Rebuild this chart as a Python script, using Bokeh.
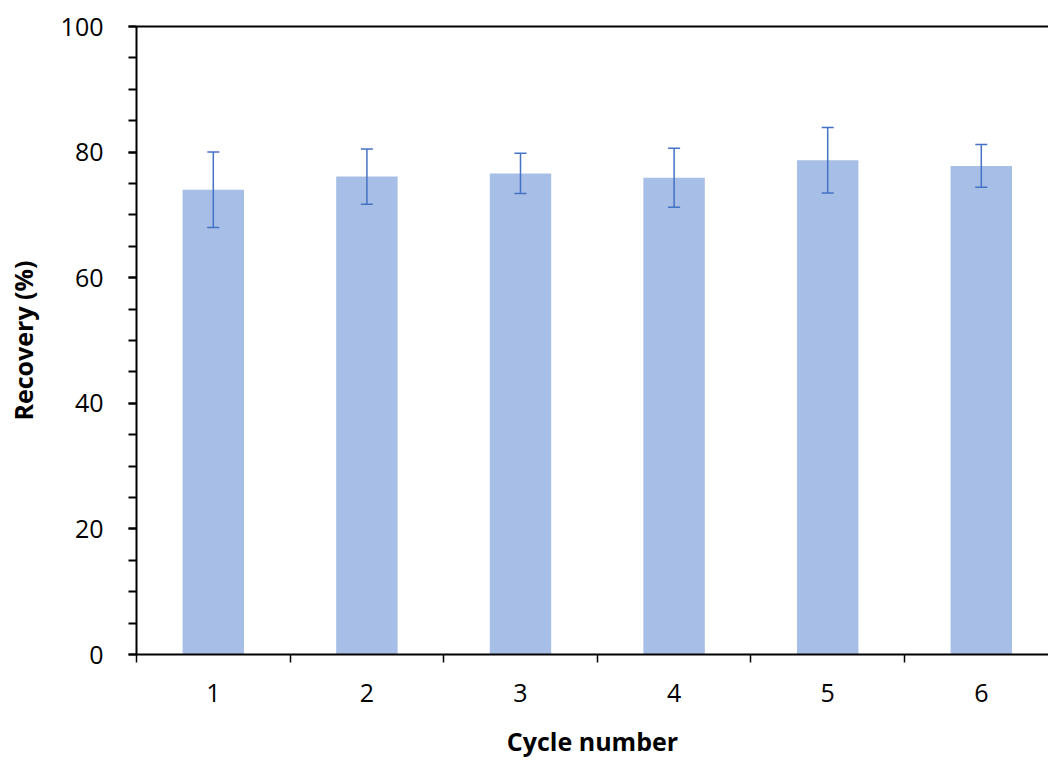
from bokeh.plotting import figure
from bokeh.models import (ColumnDataSource, FixedTicker, LinearAxis, Range1d,
                          Whisker, TeeHead)
from bokeh.embed import file_html
from bokeh.resources import INLINE

# ---- data ----
cycles = [1, 2, 3, 4, 5, 6]
cycle_labels = ["1", "2", "3", "4", "5", "6"]
recovery = [74.0, 76.1, 76.6, 75.9, 78.7, 77.8]
errors = [6.0, 4.4, 3.2, 4.7, 5.2, 3.4]
y_ticks = [0, 20, 40, 60, 80, 100]

FONT = "Open Sans"
BAR = "#A7BEE6"
ERR = "#4472C4"

src = ColumnDataSource(dict(
    x=cycles, top=recovery,
    upper=[r + e for r, e in zip(recovery, errors)],
    lower=[r - e for r, e in zip(recovery, errors)],
))

p = figure(width=1048, height=760, output_backend="svg", toolbar_location=None,
           x_range=Range1d(0.5, 6.4375), y_range=Range1d(0, 100),
           x_axis_location=None, y_axis_location=None,
           min_border_left=136, min_border_right=0, min_border_top=26,
           min_border_bottom=106)
p.outline_line_color = None
p.grid.visible = False
p.background_fill_color = "white"
p.border_fill_color = "white"

p.vbar(x="x", top="top", width=0.4, source=src, fill_color=BAR, line_color=None)
w = Whisker(source=src, base="x", upper="upper", lower="lower", level="overlay",
            line_color=ERR, line_width=1.5,
            upper_head=TeeHead(size=12, line_color=ERR, line_width=1.5),
            lower_head=TeeHead(size=12, line_color=ERR, line_width=1.5))
p.add_layout(w)

# y axis
ya = LinearAxis(ticker=FixedTicker(ticks=y_ticks,
                                   minor_ticks=list(range(0, 101, 5))))
ya.axis_line_color = "black"
ya.axis_line_width = 2
ya.major_tick_line_width = 2
ya.minor_tick_line_width = 2
ya.major_tick_out = 8
ya.major_tick_in = 0
ya.minor_tick_out = 8
ya.minor_tick_in = 0
ya.major_label_standoff = 25
ya.major_label_text_font = FONT
ya.major_label_text_font_size = "25px"
ya.major_label_text_color = "black"
ya.axis_label = "Recovery (%)"
ya.axis_label_text_font = FONT
ya.axis_label_text_font_size = "25px"
ya.axis_label_text_font_style = "bold"
ya.axis_label_text_color = "black"
ya.axis_label_standoff = 18
p.add_layout(ya, "left")

# x axis: labels at category centres, tick marks (minor) at boundaries
xa = LinearAxis(ticker=FixedTicker(ticks=cycles,
                                   minor_ticks=[0.5, 1.5, 2.5, 3.5, 4.5, 5.5, 6.5]))
xa.major_label_overrides = {c: l for c, l in zip(cycles, cycle_labels)}
xa.axis_line_color = "black"
xa.axis_line_width = 2
xa.major_tick_line_color = None
xa.major_tick_out = 8
xa.major_tick_in = 0
xa.minor_tick_line_color = "black"
xa.minor_tick_line_width = 1.5
xa.minor_tick_out = 8
xa.minor_tick_in = 0
xa.major_label_standoff = 21
xa.major_label_text_font = FONT
xa.major_label_text_font_size = "25px"
xa.major_label_text_color = "black"
xa.axis_label = "Cycle number"
xa.axis_label_text_font = FONT
xa.axis_label_text_font_size = "25px"
xa.axis_label_text_font_style = "bold"
xa.axis_label_text_color = "black"
xa.axis_label_standoff = 19
p.add_layout(xa, "below")

# top border
ta = LinearAxis(ticker=FixedTicker(ticks=[], minor_ticks=[]))
ta.axis_line_color = "black"
ta.axis_line_width = 2
ta.major_tick_line_color = None
ta.minor_tick_line_color = None
p.add_layout(ta, "above")

open("out.html", "w").write(file_html(p, INLINE))
